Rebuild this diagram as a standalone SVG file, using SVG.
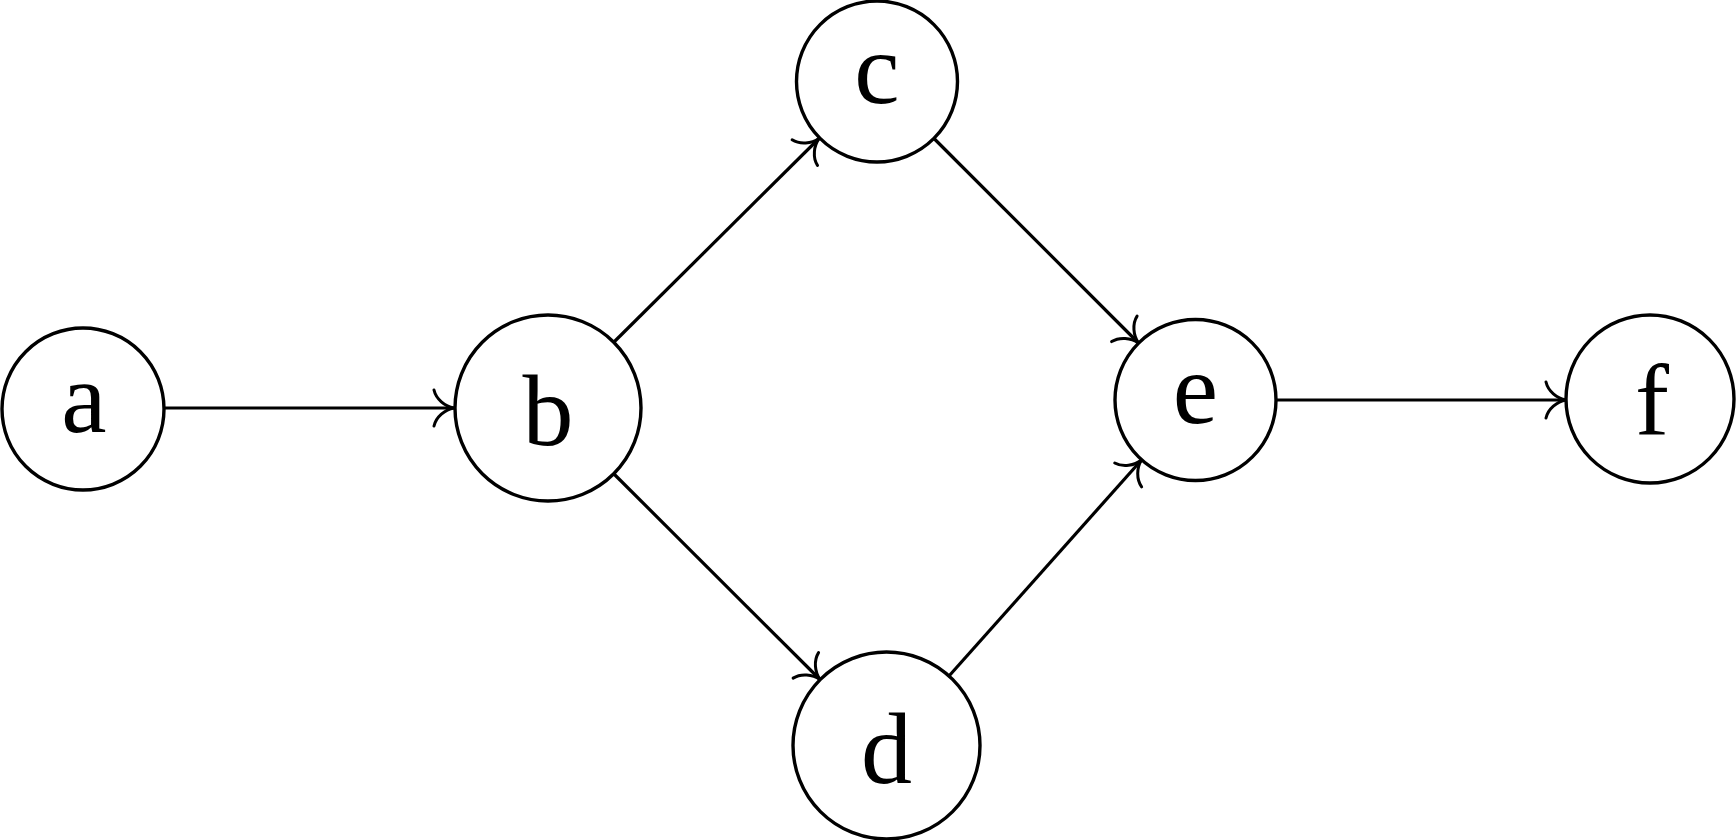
<svg xmlns="http://www.w3.org/2000/svg" width="1736" height="840" viewBox="0 0 1736 840">
<defs>
<style>
.node circle{fill:#fff;stroke:#000;stroke-width:3.4}
.node text{font-family:"Liberation Serif","Times New Roman",serif;font-size:102px;text-anchor:middle;fill:#000}
.edge{stroke:#000;stroke-width:3.2;fill:none}
</style>
<marker id="to" markerUnits="userSpaceOnUse" viewBox="-24 -22 28 44" markerWidth="28" markerHeight="44" refX="0" refY="0" orient="auto" overflow="visible">
<path d="M -20,-18 C -18,-9 -9,-1.5 0,0 C -9,1.5 -18,9 -20,18" fill="none" stroke="#000" stroke-width="3" stroke-linecap="round" stroke-linejoin="round"/>
</marker>
</defs>
<rect width="1736" height="840" fill="#fff"/>
<g id="connectors">
<line class="edge" x1="164" y1="408" x2="454" y2="408" marker-end="url(#to)"/>
<line class="edge" x1="614" y1="342" x2="819" y2="138.5" marker-end="url(#to)"/>
<line class="edge" x1="614" y1="474" x2="820" y2="679.5" marker-end="url(#to)"/>
<line class="edge" x1="934" y1="138.5" x2="1138.5" y2="343" marker-end="url(#to)"/>
<line class="edge" x1="949" y1="676" x2="1141.5" y2="460" marker-end="url(#to)"/>
<line class="edge" x1="1276" y1="400" x2="1566" y2="400" marker-end="url(#to)"/>
</g>
<g id="node-a" class="node"><circle cx="83" cy="409" r="81"/><text x="84" y="432">a</text></g>
<g id="node-b" class="node"><circle cx="548" cy="408" r="93"/><text x="548" y="445">b</text></g>
<g id="node-c" class="node"><circle cx="877" cy="81.5" r="80.5"/><text x="877" y="103">c</text></g>
<g id="node-d" class="node"><circle cx="886.5" cy="745.5" r="93.5"/><text x="886.5" y="783">d</text></g>
<g id="node-e" class="node"><circle cx="1195.5" cy="400" r="80.5"/><text x="1195.5" y="423">e</text></g>
<g id="node-f" class="node"><circle cx="1650" cy="399" r="84"/><text x="1652" y="435">f</text></g>
</svg>
